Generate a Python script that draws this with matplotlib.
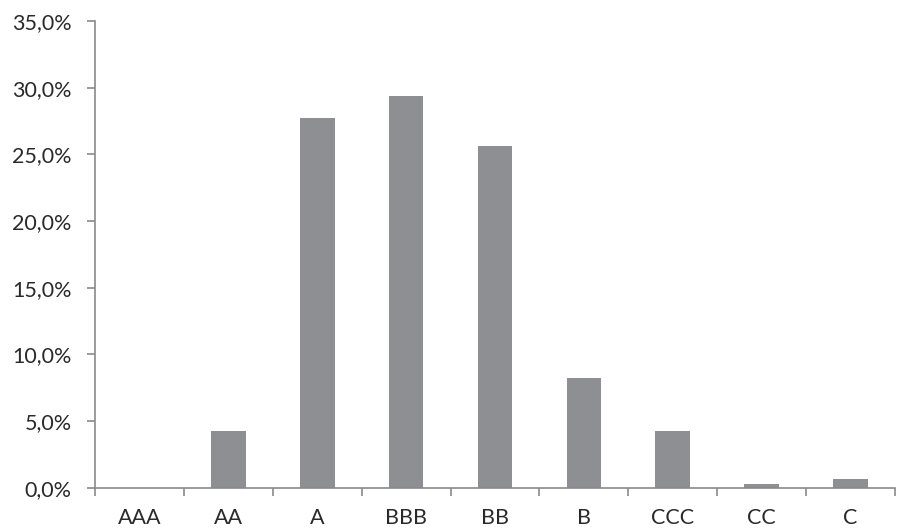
import matplotlib
matplotlib.use("Agg")
import matplotlib.pyplot as plt
import numpy as np
from matplotlib.ticker import FuncFormatter, FixedLocator

categories = ["AAA", "AA", "A", "BBB", "BB", "B", "CCC", "CC", "C"]
values = [0.0, 4.25, 27.7, 29.4, 25.6, 8.2, 4.25, 0.25, 0.65]
y_ticks = [0, 5, 10, 15, 20, 25, 30, 35]

plt.rcParams['font.family'] = ['Lato', 'DejaVu Sans']

fig = plt.figure(figsize=(8.99, 5.32), dpi=100)
ax = fig.add_axes([0.1057, 0.0833, 0.8898, 0.8772])

x = np.arange(len(categories))
ax.bar(x, values, width=0.39, color="#8e8f93", zorder=2)

ax.set_xlim(-0.5, len(categories) - 0.5)
ax.set_ylim(0, 35)
ax.set_yticks(y_ticks)
ax.yaxis.set_major_formatter(FuncFormatter(lambda v, p: f"{v:.1f}%".replace(".", ",")))
ax.set_xticks(x)
ax.set_xticklabels(categories)
ax.xaxis.set_minor_locator(FixedLocator(np.arange(-0.5, len(categories), 1.0)))

axis_color = "#8a8a8a"
for s in ["top", "right"]:
    ax.spines[s].set_visible(False)
for s in ["left", "bottom"]:
    ax.spines[s].set_color(axis_color)
    ax.spines[s].set_linewidth(1.2)

ax.tick_params(axis="x", which="major", length=0, pad=14.5, labelsize=15.5, labelcolor="#2a2a2a")
ax.tick_params(axis="x", which="minor", length=6, width=1.2, color=axis_color, direction="out")
ax.tick_params(axis="y", which="major", length=6, width=1.2, color=axis_color, pad=11,
               labelsize=15.5, labelcolor="#2a2a2a")

fig.savefig("out.png", dpi=100)
